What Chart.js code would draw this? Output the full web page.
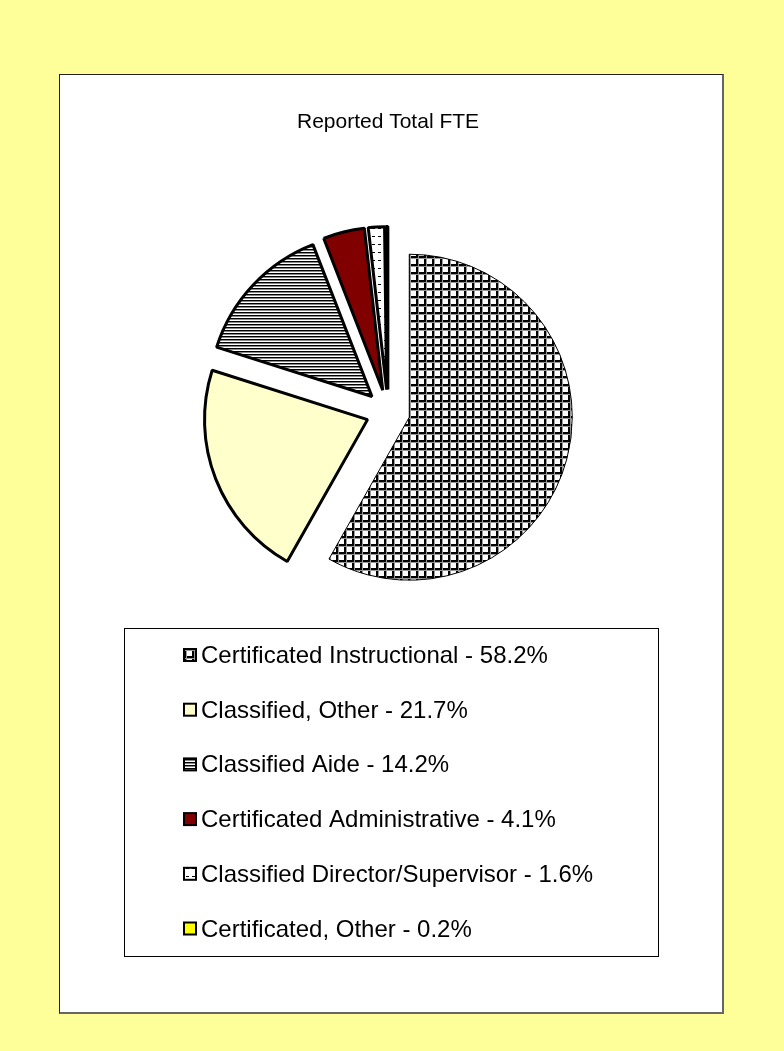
<!DOCTYPE html>
<html>
<head>
<meta charset="utf-8">
<script src="https://cdn.jsdelivr.net/npm/chart.js@4/dist/chart.umd.min.js"></script>
<style>
  html, body { margin: 0; padding: 0; background: #FFFF99; }
  #page { position: relative; width: 784px; height: 1051px; }
  #panel { position: absolute; left: 59px; top: 74px; width: 662px; height: 937px;
           background: #fff; border: 1px solid #222; border-right: 2px solid #666; border-bottom: 2px solid #666; }
  #wrap { position: absolute; left: 0; top: 0; width: 784px; height: 1051px; }
</style>
</head>
<body>
<div id="page">
  <div id="panel"></div>
  <div id="wrap"><canvas id="fteChart"></canvas></div>
</div>
<script>
// Data
var categories = ['Certificated Instructional', 'Classified, Other', 'Classified Aide',
  'Certificated Administrative', 'Classified Director/Supervisor', 'Certificated, Other'];
var fteShare = [58.2, 21.7, 14.2, 4.1, 1.6, 0.2];

// pattern fills like the old excel hatching
function makeTile(w, h, draw) {
  var c = document.createElement('canvas');
  c.width = w; c.height = h;
  var g = c.getContext('2d');
  draw(g);
  return g.createPattern(c, 'repeat');
}
var gridFill = makeTile(8, 8, function (g) {
  g.fillStyle = '#fff'; g.fillRect(0, 0, 8, 8);
  g.fillStyle = '#000'; g.fillRect(0, 0, 8, 2); g.fillRect(0, 0, 2, 8);
  g.fillStyle = '#999'; g.fillRect(0, 2, 8, 1); g.fillRect(2, 0, 1, 8);
});
var lineFill = makeTile(4, 3, function (g) {
  g.fillStyle = '#fff'; g.fillRect(0, 0, 4, 3);
  g.fillStyle = '#000'; g.fillRect(0, 0, 4, 1);
  g.fillStyle = '#888'; g.fillRect(0, 1, 4, 1);
});
var dashFill = makeTile(6, 8, function (g) {
  g.fillStyle = '#fff'; g.fillRect(0, 0, 6, 8);
  g.fillStyle = '#000'; g.fillRect(0, 4, 3, 1);
});
var sliceFills = [gridFill, '#FFFFCC', lineFill, '#800000', dashFill, '#FFFF00'];
var sliceBorders = [1, 3, 3, 3, 3, 3];

// pull every slice out the same distance, without growing the radius
var explode = {
  id: 'explode',
  afterDatasetUpdate: function (chart, args) {
    var arcs = chart.getDatasetMeta(args.index).data;
    arcs.forEach(function (arc) {
      var mid = (arc.startAngle + arc.endAngle) / 2;
      arc.x += Math.cos(mid) * 22;
      arc.y += Math.sin(mid) * 22;
    });
  }
};

// legend inside a box below the pie
var boxLegend = {
  id: 'boxLegend',
  afterDraw: function (chart) {
    var ctx = chart.ctx;
    ctx.save();
    ctx.strokeStyle = '#000';
    ctx.lineWidth = 1;
    ctx.strokeRect(124.5, 628.5, 534, 328);
    ctx.font = '24px "Liberation Sans", Arial, sans-serif';
    ctx.textBaseline = 'alphabetic';
    ctx.textAlign = 'left';
    for (var i = 0; i < categories.length; i++) {
      var base = 663 + i * 54.7;
      ctx.fillStyle = sliceFills[i];
      ctx.fillRect(184, base - 14, 12, 12);
      ctx.lineWidth = 2;
      ctx.strokeStyle = '#000';
      ctx.strokeRect(184, base - 14, 12, 12);
      ctx.fillStyle = '#000';
      ctx.fillText(categories[i] + ' - ' + fteShare[i].toFixed(1) + '%', 201, base);
    }
    ctx.restore();
  }
};

var ctx = document.getElementById('fteChart').getContext('2d');
var fteChart = new Chart(ctx, {
  type: 'pie',
  data: {
    labels: categories,
    datasets: [{
      data: fteShare,
      backgroundColor: sliceFills,
      borderColor: '#000',
      borderWidth: sliceBorders,
      hoverOffset: 0,
      radius: 163
    }]
  },
  options: {
    responsive: true,
    maintainAspectRatio: false,
    animation: false,
    events: [],
    layout: { padding: { top: 110, left: 200, right: 208, bottom: 463 } },
    plugins: {
      legend: { display: false },
      tooltip: { enabled: false },
      title: {
        display: true,
        text: 'Reported Total FTE',
        color: '#000',
        font: { family: '"Liberation Sans", Arial, sans-serif', size: 21, weight: 'normal' },
        padding: { top: 0, bottom: 100 }
      }
    }
  },
  plugins: [explode, boxLegend]
});
</script>
</body>
</html>
